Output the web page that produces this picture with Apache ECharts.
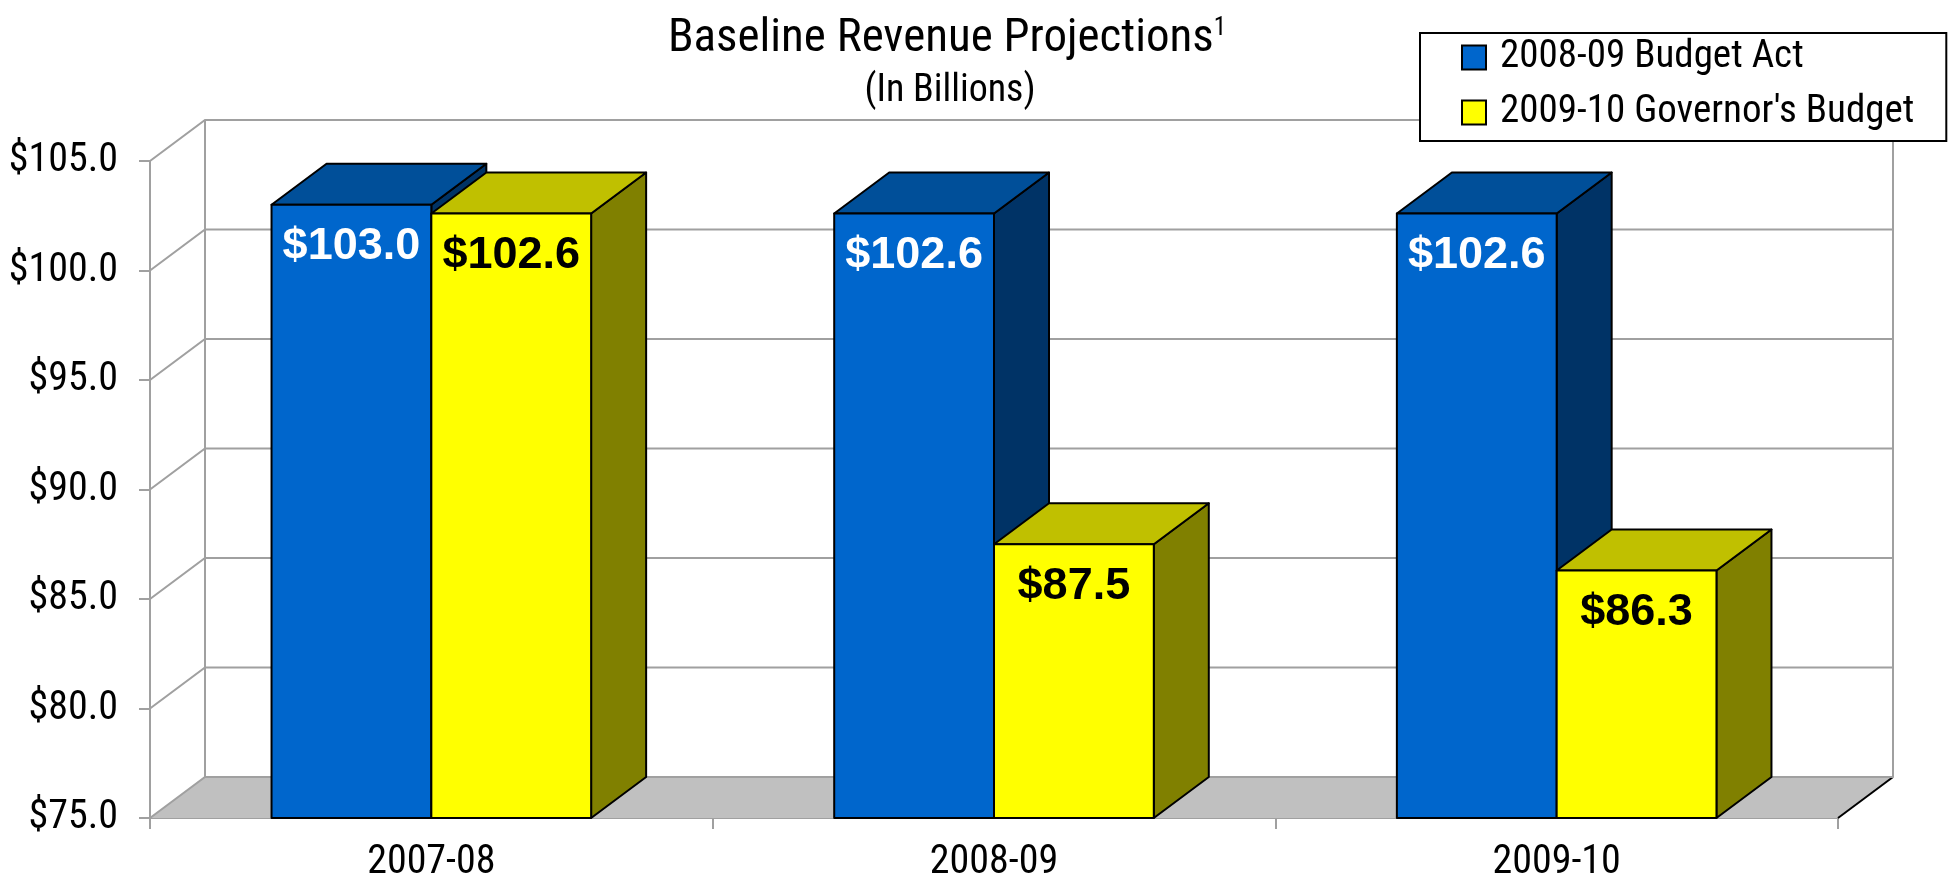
<!DOCTYPE html>
<html><head><meta charset="utf-8">
<script src="https://cdn.jsdelivr.net/npm/echarts@6/dist/echarts.min.js"></script>
<style>html,body{margin:0;padding:0;background:#fff}#c{width:1949px;height:883px}</style>
</head><body><div id="c"></div>
<script>
const categories = ['2007-08', '2008-09', '2009-10'];
const seriesNames = ['2008-09 Budget Act', "2009-10 Governor's Budget"];
const budgetAct = [103.0, 102.6, 102.6];
const governorsBudget = [102.6, 87.5, 86.3];
const yTicks = [75, 80, 85, 90, 95, 100, 105];

const DX = 55, DY = -41;
const COND = "'Roboto Condensed', 'Liberation Sans', sans-serif";
const SANS = "'Liberation Sans', Arial, sans-serif";
const GRID_COLOR = '#A0A0A0';

const chart = echarts.init(document.getElementById('c'), null, { renderer: 'canvas' });

function frameItem(params, api) {
  const cs = params.coordSys;
  const v = api.value(1);
  const y = api.coord([0, v])[1];
  const x0 = cs.x, x1 = cs.x + cs.width;
  const children = [];
  if (params.dataIndex === 0) {
    const yTop = api.coord([0, yTicks[yTicks.length - 1]])[1];
    children.push({ type: 'polygon', shape: { points: [[x0, y], [x1, y], [x1 + DX, y + DY], [x0 + DX, y + DY]] }, style: { fill: '#C0C0C0' } });
    children.push({ type: 'line', shape: { x1: x0 + DX, y1: yTop + DY, x2: x0 + DX, y2: y + DY }, style: { stroke: GRID_COLOR, lineWidth: 2 } });
    children.push({ type: 'line', shape: { x1: x1 + DX, y1: yTop + DY, x2: x1 + DX, y2: y + DY }, style: { stroke: GRID_COLOR, lineWidth: 2 } });
    children.push({ type: 'line', shape: { x1: x1, y1: y, x2: x1 + DX, y2: y + DY }, style: { stroke: '#000', lineWidth: 2 } });
  }
  children.push({ type: 'polyline', shape: { points: [[x0, y], [x0 + DX, y + DY], [x1 + DX, y + DY]] }, style: { stroke: GRID_COLOR, lineWidth: 2, fill: null } });
  return { type: 'group', children: children };
}

function barRenderer(side, colors, labelColor) {
  return function (params, api) {
    const cat = api.value(0), v = api.value(1);
    const top = api.coord([cat, v]);
    const base = api.coord([cat, yTicks[0]]);
    const band = api.size([1, 0])[0];
    const bw = band * 0.284;
    const xl = side === 0 ? top[0] - bw : top[0];
    const xr = xl + bw;
    const yt = top[1], yb = base[1];
    const ls = { stroke: '#000', lineWidth: 2, lineJoin: 'round' };
    return {
      type: 'group', children: [
        { type: 'polygon', shape: { points: [[xr, yt], [xr + DX, yt + DY], [xr + DX, yb + DY], [xr, yb]] }, style: Object.assign({ fill: colors.side }, ls) },
        { type: 'polygon', shape: { points: [[xl, yt], [xl + DX, yt + DY], [xr + DX, yt + DY], [xr, yt]] }, style: Object.assign({ fill: colors.top }, ls) },
        { type: 'rect', shape: { x: xl, y: yt, width: bw, height: yb - yt }, style: Object.assign({ fill: colors.front }, ls) },
        { type: 'text', x: (xl + xr) / 2, y: yt + 42, style: { text: '$' + v.toFixed(1), fill: labelColor, fontSize: 45, fontWeight: 'bold', fontFamily: SANS, align: 'center', verticalAlign: 'middle' } }
      ]
    };
  };
}

const option = {
  animation: false,
  backgroundColor: '#fff',
  title: [
    { text: '{m|Baseline Revenue Projections}{s|1}', left: 947, top: 16, textAlign: 'center', padding: 0,
      textStyle: { rich: { m: { fontFamily: COND, fontSize: 47, fontWeight: 'normal', color: '#000' }, s: { fontFamily: COND, fontSize: 25, fontWeight: 'normal', color: '#000', verticalAlign: 'top' } } } },
    { text: '(In Billions)', left: 950, top: 72, textAlign: 'center', padding: 0,
      textStyle: { fontFamily: COND, fontSize: 38, fontWeight: 'normal', color: '#000' } }
  ],
  legend: {
    data: seriesNames, orient: 'vertical', left: 1420, top: 33, padding: [5, 32, 9, 41], itemGap: 16,
    itemWidth: 24, itemHeight: 24, icon: 'rect', backgroundColor: '#fff', borderColor: '#000', borderWidth: 2,
    itemStyle: { borderColor: '#000', borderWidth: 2 },
    textStyle: { fontFamily: COND, fontSize: 39, color: '#000', padding: [0, 0, 0, 9] }
  },
  grid: { left: 150, right: 111, top: 161, bottom: 65, containLabel: false, outerBoundsMode: 'none' },
  xAxis: {
    type: 'category', data: categories,
    axisLine: { lineStyle: { color: GRID_COLOR, width: 2 } },
    axisTick: { show: true, length: 11, lineStyle: { color: GRID_COLOR, width: 2 } },
    axisLabel: { fontFamily: COND, fontSize: 40, color: '#000', margin: 25 },
    splitLine: { show: false }
  },
  yAxis: {
    type: 'value', min: yTicks[0], max: yTicks[yTicks.length - 1], interval: 5,
    axisLine: { show: true, lineStyle: { color: GRID_COLOR, width: 2 } },
    axisTick: { show: true, length: 11, lineStyle: { color: GRID_COLOR, width: 2 } },
    splitLine: { show: false },
    axisLabel: { formatter: function (v) { return '$' + v.toFixed(1); }, fontFamily: COND, fontSize: 40, color: '#000', margin: 32 }
  },
  series: [
    { type: 'custom', name: 'frame', z: 1, silent: true, renderItem: frameItem, encode: { x: 0, y: 1 },
      data: yTicks.map(function (v) { return [0, v]; }) },
    { type: 'custom', name: seriesNames[0], z: 2, itemStyle: { color: '#0066CC' }, encode: { x: 0, y: 1 },
      renderItem: barRenderer(0, { front: '#0066CC', top: '#004F99', side: '#003366' }, '#fff'),
      data: budgetAct.map(function (v, i) { return [i, v]; }) },
    { type: 'custom', name: seriesNames[1], z: 3, itemStyle: { color: '#FFFF00' }, encode: { x: 0, y: 1 },
      renderItem: barRenderer(1, { front: '#FFFF00', top: '#C0C000', side: '#808000' }, '#000'),
      data: governorsBudget.map(function (v, i) { return [i, v]; }) }
  ]
};
chart.setOption(option);
</script>
</body></html>
